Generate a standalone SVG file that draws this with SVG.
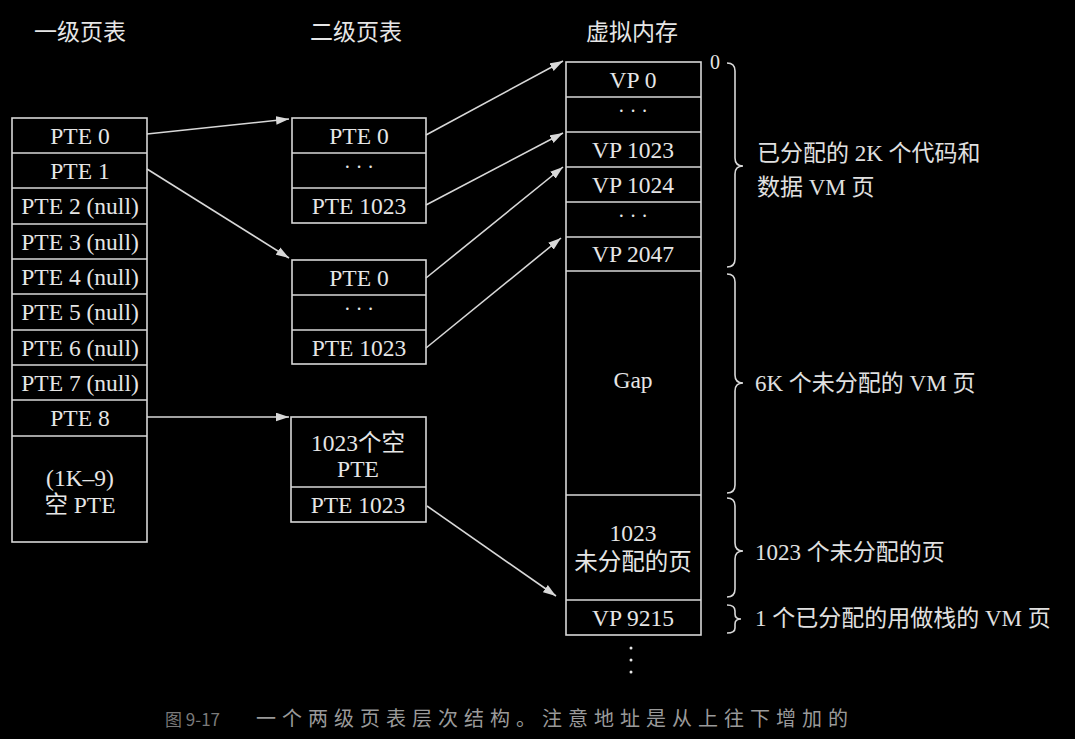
<svg xmlns="http://www.w3.org/2000/svg" width="1075" height="739" viewBox="0 0 1075 739">
<defs>
<style>
.bg{fill:#000}
.box{fill:none;stroke:#d8d8d8;stroke-width:1.6}
.ln{stroke:#d8d8d8;stroke-width:1.6}
.t{font-family:"Liberation Serif","Noto Sans CJK SC",serif;font-size:23.5px;fill:#e6e6e6;text-anchor:middle}
.h{font-family:"Noto Sans CJK SC",sans-serif;font-size:23px;fill:#e6e6e6;text-anchor:middle}
.lab{font-family:"Liberation Serif","Noto Sans CJK SC",serif;font-size:23px;fill:#e0e0e0}
.dots{font-family:"Liberation Serif",serif;font-size:20px;fill:#e6e6e6;text-anchor:middle}
.arrow{stroke:#d8d8d8;stroke-width:1.6;fill:none;marker-end:url(#ah)}
.brace{stroke:#d8d8d8;stroke-width:1.6;fill:none}
.cap{font-family:"Noto Sans CJK SC",sans-serif;fill:#9a9a9a}
</style>
<marker id="ah" viewBox="0 0 12 8" markerWidth="13" markerHeight="9" refX="12" refY="4" orient="auto" markerUnits="userSpaceOnUse">
<path d="M0,0 L12,4 L0,8 z" fill="#d8d8d8"/>
</marker>
</defs>
<rect class="bg" x="0" y="0" width="1075" height="739"/>

<g id="headers">
<text class="h" x="80" y="40">一级页表</text>
<text class="h" x="356" y="40">二级页表</text>
<text class="h" x="632" y="40">虚拟内存</text>
</g>

<g id="level1">
<rect class="box" x="12" y="118" width="135" height="424"/>
<line class="ln" x1="12" y1="153" x2="147" y2="153"/>
<line class="ln" x1="12" y1="188" x2="147" y2="188"/>
<line class="ln" x1="12" y1="224" x2="147" y2="224"/>
<line class="ln" x1="12" y1="259" x2="147" y2="259"/>
<line class="ln" x1="12" y1="294" x2="147" y2="294"/>
<line class="ln" x1="12" y1="330" x2="147" y2="330"/>
<line class="ln" x1="12" y1="365" x2="147" y2="365"/>
<line class="ln" x1="12" y1="400" x2="147" y2="400"/>
<line class="ln" x1="12" y1="436" x2="147" y2="436"/>
<text class="t" x="80" y="144">PTE 0</text>
<text class="t" x="80" y="179">PTE 1</text>
<text class="t" x="80" y="214">PTE 2 (null)</text>
<text class="t" x="80" y="250">PTE 3 (null)</text>
<text class="t" x="80" y="285">PTE 4 (null)</text>
<text class="t" x="80" y="320">PTE 5 (null)</text>
<text class="t" x="80" y="356">PTE 6 (null)</text>
<text class="t" x="80" y="391">PTE 7 (null)</text>
<text class="t" x="80" y="426">PTE 8</text>
<text class="t" x="80" y="486">(1K–9)</text>
<text class="t" x="80" y="513">空 PTE</text>
</g>

<g id="level2-a">
<rect class="box" x="292" y="118" width="134" height="105"/>
<line class="ln" x1="292" y1="153" x2="426" y2="153"/>
<line class="ln" x1="292" y1="188" x2="426" y2="188"/>
<text class="t" x="359" y="144">PTE 0</text>
<text class="dots" x="359" y="174">· · ·</text>
<text class="t" x="359" y="214">PTE 1023</text>
</g>

<g id="level2-b">
<rect class="box" x="292" y="260" width="134" height="104"/>
<line class="ln" x1="292" y1="295" x2="426" y2="295"/>
<line class="ln" x1="292" y1="330" x2="426" y2="330"/>
<text class="t" x="359" y="286">PTE 0</text>
<text class="dots" x="359" y="316">· · ·</text>
<text class="t" x="359" y="356">PTE 1023</text>
</g>

<g id="level2-c">
<rect class="box" x="291" y="417" width="135" height="105"/>
<line class="ln" x1="291" y1="487" x2="426" y2="487"/>
<text class="t" x="358" y="451">1023个空</text>
<text class="t" x="358" y="477">PTE</text>
<text class="t" x="358" y="513">PTE 1023</text>
</g>

<g id="vm">
<rect class="box" x="566" y="62" width="135" height="573"/>
<line class="ln" x1="566" y1="97" x2="701" y2="97"/>
<line class="ln" x1="566" y1="132" x2="701" y2="132"/>
<line class="ln" x1="566" y1="167" x2="701" y2="167"/>
<line class="ln" x1="566" y1="202" x2="701" y2="202"/>
<line class="ln" x1="566" y1="237" x2="701" y2="237"/>
<line class="ln" x1="566" y1="271" x2="701" y2="271"/>
<line class="ln" x1="566" y1="495" x2="701" y2="495"/>
<line class="ln" x1="566" y1="600" x2="701" y2="600"/>
<text class="t" x="633" y="88">VP 0</text>
<text class="dots" x="633" y="118">· · ·</text>
<text class="t" x="633" y="158">VP 1023</text>
<text class="t" x="633" y="193">VP 1024</text>
<text class="dots" x="633" y="223">· · ·</text>
<text class="t" x="633" y="262">VP 2047</text>
<text class="t" x="633" y="388">Gap</text>
<text class="t" x="633" y="541">1023</text>
<text class="t" x="633" y="570">未分配的页</text>
<text class="t" x="633" y="626">VP 9215</text>
<circle cx="631" cy="648" r="1.5" fill="#e6e6e6"/>
<circle cx="631" cy="660" r="1.5" fill="#e6e6e6"/>
<circle cx="631" cy="672" r="1.5" fill="#e6e6e6"/>
<text class="t" x="715" y="69" style="font-size:20px">0</text>
</g>

<g id="connectors">
<line class="arrow" x1="147" y1="134" x2="289" y2="119"/>
<line class="arrow" x1="147" y1="169" x2="289" y2="258"/>
<line class="arrow" x1="147" y1="417" x2="289" y2="417"/>
<line class="arrow" x1="426" y1="135" x2="563" y2="61"/>
<line class="arrow" x1="426" y1="205" x2="563" y2="133"/>
<line class="arrow" x1="426" y1="278" x2="563" y2="167"/>
<line class="arrow" x1="426" y1="348" x2="561" y2="238"/>
<line class="arrow" x1="427" y1="506" x2="556" y2="596"/>
</g>

<g id="braces">
<path class="brace" d="M727,63 Q735,63 735,71 L735,158 Q735,166 743,166 Q735,166 735,174 L735,259 Q735,267 727,267"/>
<path class="brace" d="M727,274 Q735,274 735,282 L735,375 Q735,383 743,383 Q735,383 735,391 L735,485 Q735,493 727,493"/>
<path class="brace" d="M727,498 Q735,498 735,506 L735,543 Q735,551 743,551 Q735,551 735,559 L735,589 Q735,597 727,597"/>
<path class="brace" d="M727,605 Q735,605 735,611 L735,614 Q735,619 741,619 Q735,619 735,624 L735,628 Q735,633 727,633"/>
</g>

<g id="labels">
<text class="lab" x="757" y="161">已分配的 2K 个代码和</text>
<text class="lab" x="757" y="195">数据 VM 页</text>
<text class="lab" x="755" y="391">6K 个未分配的 VM 页</text>
<text class="lab" x="755" y="560">1023 个未分配的页</text>
<text class="lab" x="755" y="626">1 个已分配的用做栈的 VM 页</text>
</g>

<g id="caption">
<text class="cap" x="165" y="726" style="font-size:17px;fill:#7a7a7a">图 9-17</text>
<text class="cap" x="256" y="726" style="font-size:20px;letter-spacing:6px">一个两级页表层次结构。注意地址是从上往下增加的</text>
</g>
</svg>
